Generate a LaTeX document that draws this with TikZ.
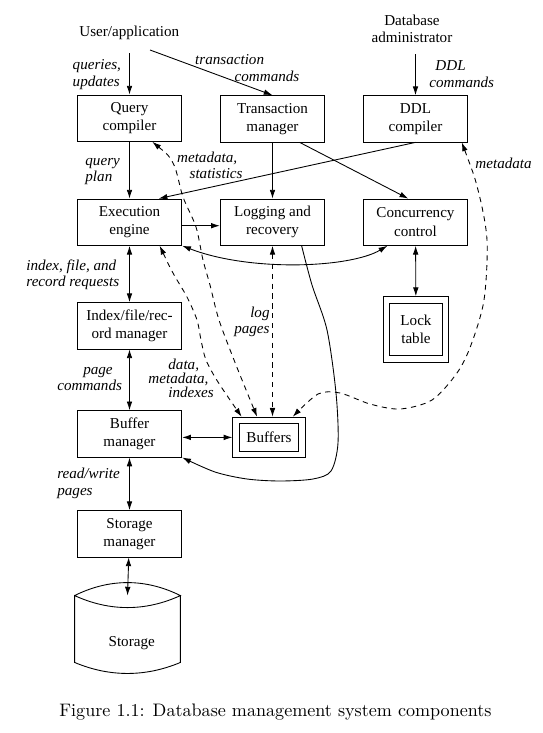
\documentclass[tikz,border=0pt]{standalone}
\usepackage{fontspec}
\usetikzlibrary{arrows.meta, positioning}
\newfontfamily\diagfont{Liberation Serif}
\tikzset{
  box/.style={draw, minimum width=2.09cm, minimum height=0.926cm, align=center, inner sep=1pt,
    font=\diagfont\fontsize{8.6}{10.4}\selectfont},
  dbox/.style={draw, double, double distance=3.2pt, outer sep=2.1pt, align=center, inner sep=1pt,
    font=\diagfont\fontsize{8.6}{10.4}\selectfont},
  lbl/.style={inner sep=0pt, align=left, font=\diagfont\itshape\fontsize{8.6}{9.4}\selectfont},
  txt/.style={align=center, font=\diagfont\fontsize{8.6}{9.4}\selectfont},
  flow/.style={-{Latex[length=5pt,width=3.2pt]}},
  both/.style={{Latex[length=5pt,width=3.2pt]}-{Latex[length=5pt,width=3.2pt]}},
  meta/.style={both, dash pattern=on 3pt off 2.6pt},
}

\begin{document}
\begin{tikzpicture}[x=0.02cm, y=-0.02cm, line width=0.5pt]
    \useasboundingbox (0,0) rectangle (543,733);

    % Sources
    \node[txt] (user) at (129.3,33.3) {User/application};
    \node[txt] (dba) at (412,29) {Database\\administrator};
    \coordinate (tx) at (150,50);

    % Components
    \node[box] (qc) at (129.5,118.2) {Query\\compiler};
    \node[box] (tm) at (272.5,118.8) {Transaction\\manager};
    \node[box] (ddl) at (415.5,118.8) {DDL\\compiler};
    \node[box] (ee) at (129.5,222.2) {Execution\\engine};
    \node[box] (log) at (272.5,222.2) {Logging and\\recovery};
    \node[box] (cc) at (415.5,222.2) {Concurrency\\control};
    \node[box] (idx) at (129.5,325.8) {Index/file/rec-\\ord manager};
    \node[dbox, minimum width=1.184cm, minimum height=1.184cm] (lock) at (416,329.5) {Lock\\table};
    \node[box] (bm) at (129.5,433.9) {Buffer\\manager};
    \node[dbox, minimum width=1.316cm, minimum height=0.678cm] (bufs) at (269,437.4) {Buffers};
    \node[box] (sm) at (129.5,533.8) {Storage\\manager};

    % Disk
    \node[minimum width=2.1cm, minimum height=1.32cm, inner sep=0pt] (disk) at (127.5,629) {};
    \draw (disk.north west) .. controls +(35,-17.3) and +(-35,-17.3) .. (disk.north east)
        .. controls +(-35,16) and +(35,16) .. (disk.north west)
        -- (disk.south west) .. controls +(35,14.7) and +(-35,14.7) .. (disk.south east)
        -- (disk.north east);
    \node[txt] (stolbl) at (131.7,643.3) {Storage};

    % Control flow
    \draw[flow, shorten <=4pt] (user.south -| qc.north) -- (qc.north);
    \draw[flow] (tx) -- (tm.north);
    \draw[flow, shorten <=3pt] (dba.south -| ddl.north) -- (ddl.north);
    \draw[flow] (qc) -- (ee);
    \draw[flow] (tm) -- (log);
    \draw[flow] (tm.-41) -- (cc.107);
    \draw[flow] (ddl.south) -- (ee.39);
    \draw[flow] ([yshift=-2pt]ee.east) -- ([yshift=-2pt]log.west);
    \draw[both] (ee.south east) .. controls (250,272) and (350,268) .. (cc.220);
    \draw[both] (cc) -- (lock);
    \draw[both] (ee) -- (idx);
    \draw[both] (idx) -- (bm);
    \draw[both] (bufs.west -| bm.east) -- (bufs.west);
    \draw[both] (bm) -- (sm);
    \draw[both] (sm) -- (disk.north);
    \draw[flow] plot[smooth] coordinates {(log.-39) (312,285) (327,330) (336,393) (338,443)
        (331,471) (313,479) (280,481) (247,479) (215,472) (bm.south east)};

    % Data paths
    \draw[meta] plot[smooth] coordinates {(qc.-46) (173,163) (183,197) (196,227) (203,260)
        (210,285) (219,320) (236,365) (bufs.120)};
    \draw[meta] plot[smooth] coordinates {(ee.-38) (173,273) (187,297) (197,320) (201,340)
        (206,360) (218,382) (bufs.143)};
    \draw[meta] (log.south) -- (log.south |- bufs.north);
    \draw[meta] plot[smooth] coordinates {(ddl.-27) (478,190) (487,240) (484,300) (471,345)
        (457,373) (432,400) (400,409) (370,404) (340,393) (318,394) (bufs.41)};

    % Labels
    \node[lbl, anchor=west] (qlbl) at (72.3,74.7) {queries,\\updates};
    \node[lbl, anchor=west] (tlbl) at (194.8,68) {transaction\\\hspace*{0.79cm}commands};
    \node[lbl, anchor=west] (dlbl) at (429,74.2) {\hspace*{0.12cm}DDL\\commands};
    \node[lbl, anchor=west] (plbl) at (85,171.7) {query\\plan};
    \node[lbl, anchor=west] (mlbl) at (176.7,165.5) {metadata,\\\hspace*{0.25cm}statistics};
    \node[lbl, anchor=west] (rlbl) at (475,163.3) {metadata};
    \node[lbl, anchor=west] (ilbl) at (26,275) {index, file, and\\record requests};
    \node[lbl, anchor=east, align=right] (llbl) at (270,321.7) {log\\pages};
    \node[lbl, anchor=west] (pglbl) at (56.9,379.2) {\hspace*{0.52cm}page\\commands};
    \node[lbl, anchor=west, font=\diagfont\itshape\fontsize{8.6}{7.8}\selectfont] (dmlbl)
        at (148,378.3) {\hspace*{0.4cm}data,\\metadata,\\\hspace*{0.4cm}indexes};
    \node[lbl, anchor=west] (rwlbl) at (56.9,483.3) {read/write\\pages};

    % Caption
    \node[font=\fontsize{10.3}{12}\selectfont] (caption) at (275.5,711.7)
        {Figure 1.1: Database management system components};
\end{tikzpicture}
\end{document}
